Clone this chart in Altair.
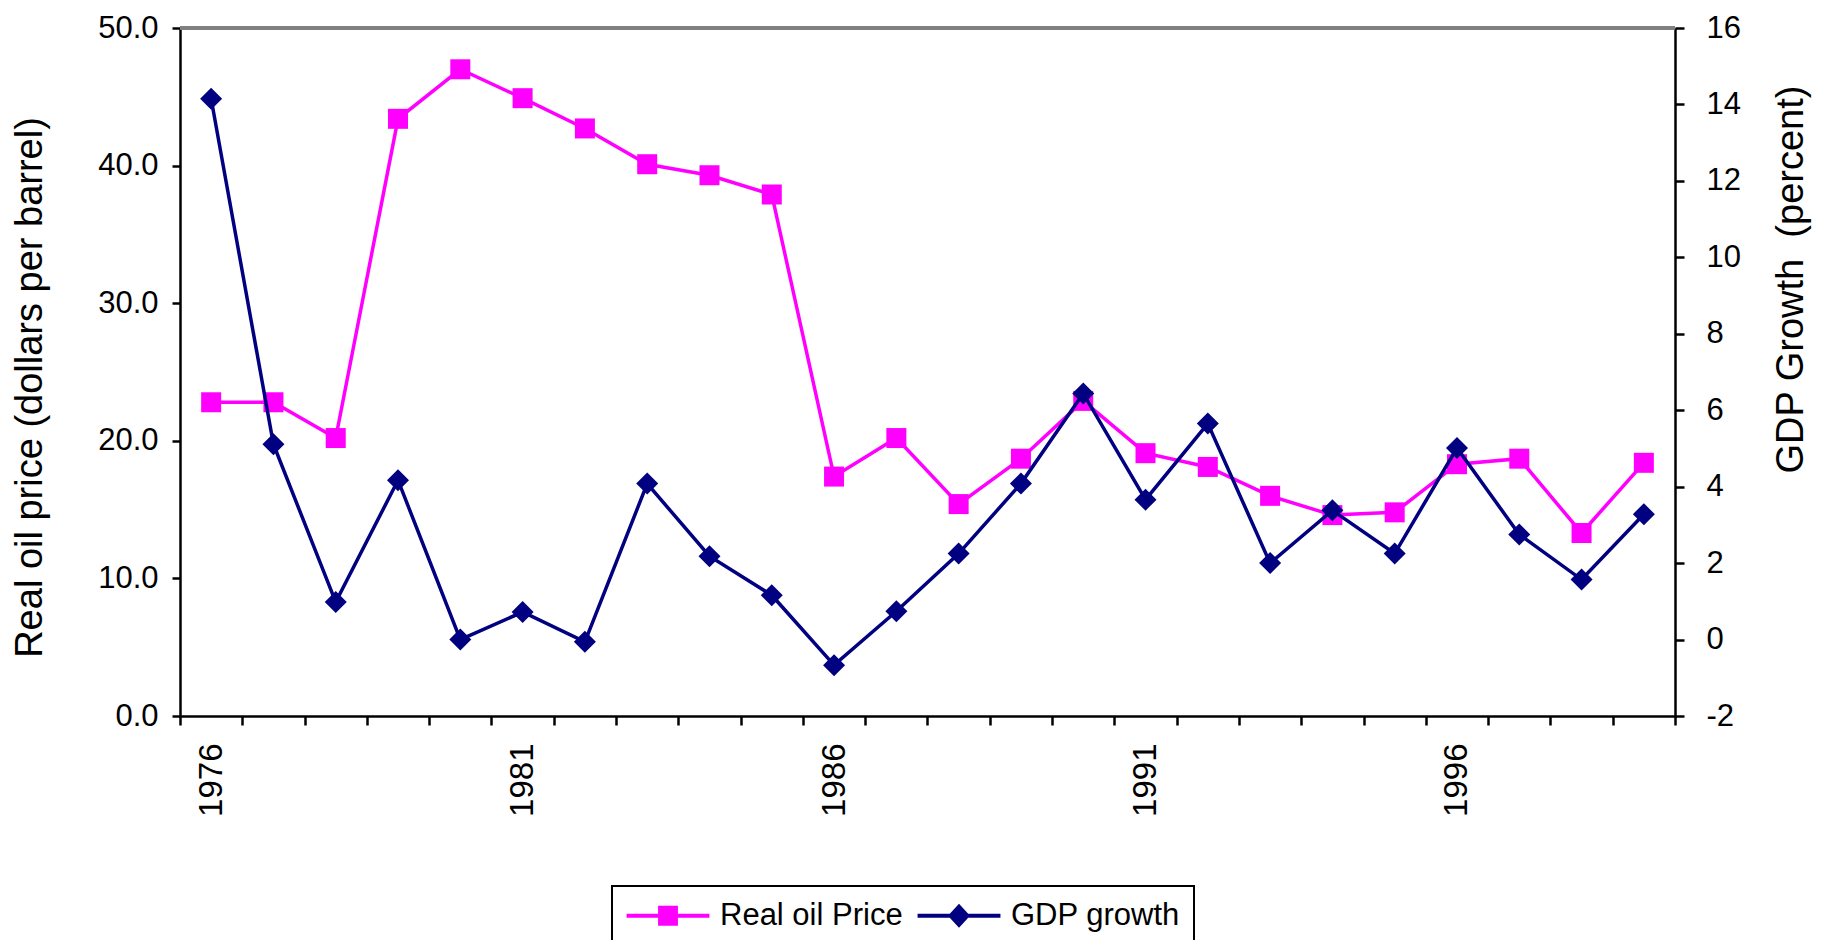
import altair as alt
import pandas as pd

# ---- data ----
years = list(range(1976, 2000))
oil_price = [22.8, 22.8, 20.2, 43.4, 47.0, 44.9, 42.7, 40.1, 39.3, 37.9,
             17.4, 20.2, 15.4, 18.7, 22.9, 19.1, 18.1, 16.0, 14.6, 14.8,
             18.3, 18.7, 13.3, 18.4]
gdp_growth = [14.15, 5.11, 0.98, 4.17, 0.0, 0.72, -0.06, 4.08, 2.18, 1.16,
              -0.67, 0.74, 2.25, 4.08, 6.44, 3.66, 5.65, 2.0, 3.38, 2.25,
              5.01, 2.75, 1.57, 3.28]
series_names = ["Real oil Price", "GDP growth"]
series_colors = ["#FF00FF", "#000080"]
oil_ticks = [0, 10, 20, 30, 40, 50]
gdp_ticks = [-2, 0, 2, 4, 6, 8, 10, 12, 14, 16]

df = pd.DataFrame({"year": years, "oil": oil_price, "gdp": gdp_growth})

FONT = "Liberation Sans"
W, H = 1495, 688

# legend symbols: line with marker (custom SVG paths)
sq_path = "M-2.96,-0.15H2.96V0.15H-2.96Z M-0.71,-0.71H0.71V0.71H-0.71Z"
dm_path = "M-2.96,-0.15H2.96V0.15H-2.96Z M0,-0.86L0.79,0L0,0.86L-0.79,0Z"

x_enc = alt.X(
    "year:O",
    scale=alt.Scale(type="band", paddingInner=0, paddingOuter=0),
    axis=alt.Axis(
        title=None, labelAngle=270, labelOverlap=False,
        labelExpr="(datum.value - 1976) % 5 == 0 ? datum.label : ''",
        tickBand="extent", tickSize=9, tickWidth=2.5, labelPadding=18,
        labelFontSize=33, labelFont=FONT, labelColor="black",
        domainColor="black", domainWidth=2.5, tickColor="black", grid=False,
    ),
)

oil_axis = alt.Axis(
    orient="left", values=oil_ticks, format=".1f", grid=False,
    title="Real oil price (dollars per barrel)", titleAngle=270,
    titleX=-150, titleY=359, titleAlign="center", titleBaseline="middle",
    titleFontSize=38, titleFontWeight="normal", titleFont=FONT, titleColor="black",
    labelFontSize=31, labelFont=FONT, labelColor="black", labelPadding=14,
    tickSize=8, tickWidth=2.5, tickColor="black",
    domainColor="black", domainWidth=2.5,
)
gdp_axis = alt.Axis(
    orient="right", values=gdp_ticks, grid=False,
    labelExpr="'' + datum.value",
    title="GDP Growth\u00a0 (percent)", titleAngle=270,
    titleX=116, titleY=251, titleAlign="center", titleBaseline="middle",
    titleFontSize=38, titleFontWeight="normal", titleFont=FONT, titleColor="black",
    labelFontSize=31, labelFont=FONT, labelColor="black", labelPadding=22,
    tickSize=9, tickWidth=2.5, tickColor="black",
    domainColor="black", domainWidth=2.5,
)

y_oil = alt.Y("oil:Q", scale=alt.Scale(domain=[0, 50], nice=False, zero=False), axis=oil_axis)
y_gdp = alt.Y("gdp:Q", scale=alt.Scale(domain=[-2, 16], nice=False, zero=False), axis=gdp_axis)

base = alt.Chart(df)

top_border = alt.Chart(pd.DataFrame({"k": [0]})).mark_rule(
    color="#808080", strokeWidth=4
).encode(y=alt.value(0), x=alt.value(0), x2=alt.value(W))

oil_line = base.mark_line(color=series_colors[0], strokeWidth=3.5).encode(x=x_enc, y=y_oil)
oil_pts = base.mark_point(shape="square", filled=True, size=400, opacity=1,
                          color=series_colors[0]).encode(x=x_enc, y=y_oil)

legend_spec = dict(
    title=None, orient="none", legendX=432, legendY=858, direction="horizontal",
    symbolSize=784, symbolStrokeWidth=0, symbolOffset=26.5, labelOffset=36.5,
    labelFontSize=31, labelFont=FONT, labelColor="black", labelLimit=400,
    strokeColor="black", padding=14, columnPadding=14,
)
legend_df = pd.DataFrame({"series": series_names, "year": [years[0]] * 2, "oil": [0.0, 0.0]})
legend_layer = alt.Chart(legend_df).transform_filter("false").mark_point(
    filled=True, opacity=1
).encode(
    x=x_enc, y=y_oil,
    color=alt.Color("series:N", scale=alt.Scale(domain=series_names, range=series_colors),
                    legend=alt.Legend(**legend_spec)),
    shape=alt.Shape("series:N", scale=alt.Scale(domain=series_names, range=[sq_path, dm_path]),
                    legend=alt.Legend(**legend_spec)),
)

gdp_line = base.mark_line(color=series_colors[1], strokeWidth=3.5).encode(x=x_enc, y=y_gdp)
gdp_pts = base.mark_point(shape="diamond", filled=True, size=484, opacity=1,
                          color=series_colors[1]).encode(x=x_enc, y=y_gdp)

left = alt.layer(top_border, oil_line, oil_pts, legend_layer)
right = alt.layer(gdp_line, gdp_pts)

chart = alt.layer(left, right).resolve_scale(y="independent").properties(
    width=W, height=H,
    autosize=alt.AutoSizeParams(type="none"),
    padding={"left": 172, "top": 20, "right": 139, "bottom": 240},
).configure(font=FONT).configure_view(stroke=None).configure_legend(strokeWidth=2)

chart.save("out.html", embed_options={"renderer": "svg", "actions": False})
